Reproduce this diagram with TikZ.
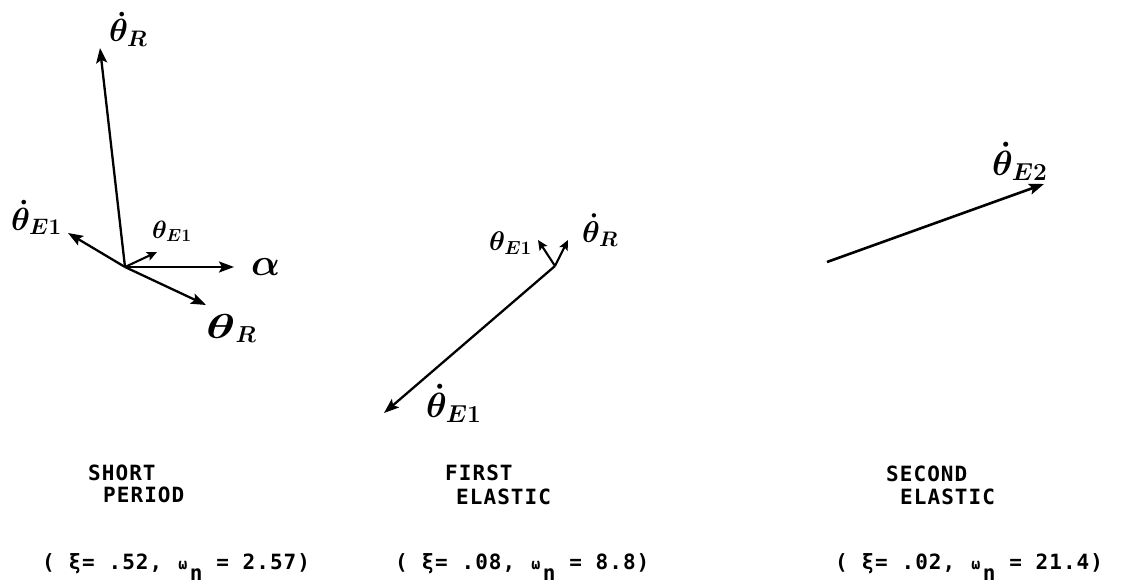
\RequirePackage{fix-cm}
\documentclass[tikz,border=0pt]{standalone}
\usepackage{graphicx}
\usepackage{fontspec}
\newfontfamily\tw[LetterSpace=5]{DejaVu Sans Mono}
\usetikzlibrary{arrows.meta}
\newcommand\smw{\makebox[14pt][c]{\fontsize{15}{15}\selectfont ω}}
\newcommand\lown{\raisebox{-11pt}{n}}
\tikzset{
  vec/.style={line width=2.3pt, -{Stealth[length=15pt,width=11pt,inset=3pt]}},
  svec/.style={line width=2.1pt, -{Stealth[length=10pt,width=9pt,inset=2pt]}},
  lab/.style={inner sep=0pt, anchor=base west},
  tt/.style={inner sep=0pt, anchor=base west, font=\tw\bfseries\fontsize{21}{24}\selectfont},
}
\begin{document}
\begin{tikzpicture}[x=1pt,y=-1pt]
\useasboundingbox[fill=white] (0,0) rectangle (1132,586);

% ---------- short period ----------
\coordinate (o1) at (125,267);
\coordinate (t1r) at (100,48);
\coordinate (t1e) at (68,233);
\coordinate (t1s) at (157,252);
\coordinate (t1a) at (234,267);
\coordinate (t1q) at (206,305);
\draw[vec] (o1) -- (t1r);
\draw[vec] (o1) -- (t1e);
\draw[svec] (o1) -- (t1s);
\draw[vec] (o1) -- (t1a);
\draw[vec] (o1) -- (t1q);
\node[lab, font=\boldmath\fontsize{32}{32}\selectfont] (l1r) at (109,42) {$\dot\theta_R$};
\node[lab, font=\boldmath\fontsize{32}{32}\selectfont] (l1e) at (11,230) {$\dot\theta_{E1}$};
\node[lab, font=\boldmath\fontsize{25}{25}\selectfont] (l1s) at (152,238) {$\theta_{E1}$};
\node[lab, font=\boldmath\fontsize{38}{38}\selectfont] (l1a) at (251,275) {$\alpha$};
\node[lab, font=\boldmath\fontsize{33}{33}\selectfont] (l1q) at (206,338) {\scalebox{1.5}[1.05]{$\theta$}$_R$};

% ---------- first elastic ----------
\coordinate (o2) at (555,266);
\coordinate (t2r) at (568,240);
\coordinate (t2e) at (538,240);
\coordinate (t2b) at (384,413);
\draw[svec] (o2) -- (t2r);
\draw[svec] (o2) -- (t2e);
\draw[vec] (o2) -- (t2b);
\node[lab, font=\boldmath\fontsize{27}{27}\selectfont] (l2e) at (489,250) {$\theta_{E1}$};
\node[lab, font=\boldmath\fontsize{30}{30}\selectfont] (l2r) at (582,242) {$\dot\theta_R$};
\node[lab, font=\boldmath\fontsize{35}{35}\selectfont] (l2b) at (426,417) {$\dot\theta_{E1}$};

% ---------- second elastic ----------
\coordinate (o3) at (827,262);
\coordinate (t3) at (1044,184);
\draw[vec, line width=2.6pt] (o3) -- (t3);
\node[lab, font=\boldmath\fontsize{35}{35}\selectfont] (l3) at (992,175) {$\dot\theta_{E2}$};

% ---------- captions ----------
\node[tt] (c1a) at (88,480) {SHORT};
\node[tt] (c1b) at (103,502) {PERIOD};
\node[tt] (c2a) at (445,480) {FIRST};
\node[tt] (c2b) at (456,504) {ELASTIC};
\node[tt] (c3a) at (886,481) {SECOND};
\node[tt] (c3b) at (900,504) {ELASTIC};

\node[tt] (p1) at (42,569) {( ξ= .52, \smw\lown{} = 2.57)};
\node[tt] (p2) at (395,569) {( ξ= .08, \smw\lown{} = 8.8)};
\node[tt] (p3) at (835,569) {( ξ= .02, \smw\lown{} = 21.4)};
\end{tikzpicture}
\end{document}
